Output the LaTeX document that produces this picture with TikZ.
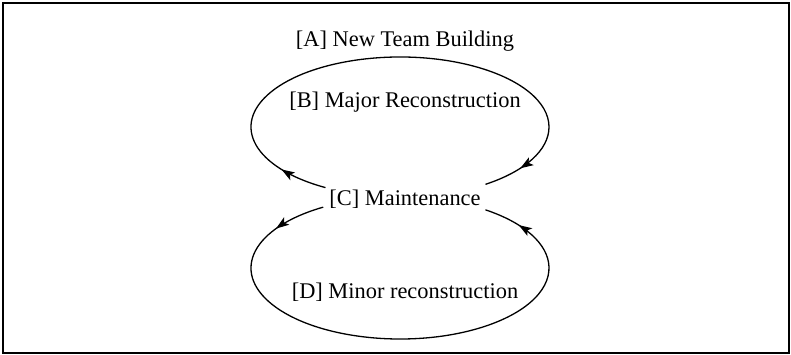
\documentclass[tikz,border=0pt]{standalone}
\usepackage{fontspec}
\setmainfont{Liberation Serif}
\usetikzlibrary{arrows.meta,decorations.markings}
\begin{document}
\begin{tikzpicture}[x=1pt,y=1pt,
  lbl/.style={anchor=base,inner sep=0pt,font=\fontsize{22.4}{26}\selectfont},
  loopline/.style={line width=1.3pt,postaction={decorate}},
  tipA/.style={decoration={markings,
     mark=at position #1 with {\arrow{Stealth[length=13pt,width=9pt,inset=3pt]}}}}
]
\useasboundingbox (0,0) rectangle (791,355);
\draw[line width=1.5pt] (3,2) rectangle (789,352);
\node[lbl] (A) at (405,308) {[A] New Team Building};
\node[lbl] (B) at (405,247) {[B] Major Reconstruction};
\node[lbl] (C) at (405,149) {[C] Maintenance};
\node[lbl] (D) at (405,56) {[D] Minor reconstruction};
\coordinate (up) at (400,228);
\coordinate (lo) at (400,87);
\draw[line width=1.3pt,postaction={decorate},
  decoration={markings,
    mark=at position 0.087 with {\arrow{Stealth[length=13pt,width=9pt,inset=3pt]}},
    mark=at position 0.93 with {\arrow{Stealth[length=13pt,width=9pt,inset=3pt]}}}]
  (up) ++(240:149pt and 70pt) arc[start angle=240,end angle=-55,x radius=149pt,y radius=70pt];
\draw[line width=1.3pt,postaction={decorate},
  decoration={markings,
    mark=at position 0.095 with {\arrow{Stealth[length=13pt,width=9pt,inset=3pt]}},
    mark=at position 0.933 with {\arrow{Stealth[length=13pt,width=9pt,inset=3pt]}}}]
  (lo) ++(121:149pt and 71pt) arc[start angle=121,end angle=415,x radius=149pt,y radius=71pt];
\end{tikzpicture}
\end{document}
